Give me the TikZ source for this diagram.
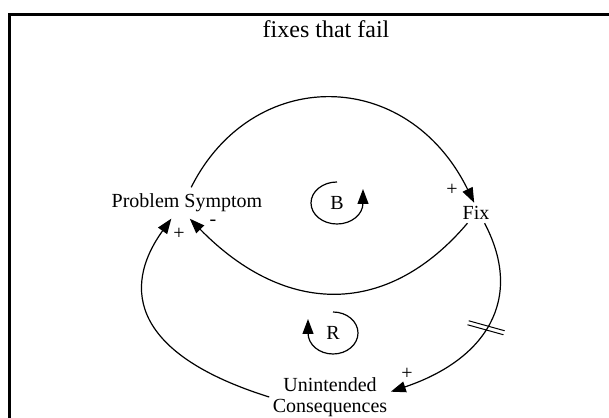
\documentclass[tikz,border=0pt]{standalone}
\usepackage{fontspec}
\setmainfont{Liberation Serif}
\usetikzlibrary{arrows.meta}

\begin{document}
\begin{tikzpicture}[x=0.5pt, y=0.5pt, line width=0.6pt,
		every node/.style={font=\fontsize{10}{10.5}\selectfont, inner sep=1.5pt},
		link/.style={-{Triangle[length=7.5pt,width=5.5pt]}},
		sign/.style={inner sep=0pt}]
		\useasboundingbox (0,0) rectangle (609,417);
		\draw[line width=1.5pt] (9,402) rectangle (615,-5);
		\node[font=\fontsize{12}{14}\selectfont] (title) at (326,388) {fixes that fail};
		
		\node[inner ysep=3pt] (PS) at (187,214) {Problem Symptom};
		\node (Fix) at (476,204) {Fix};
		\node[align=center] (UC) at (330,20) {Unintended\\Consequences};
		\node (B) at (337,214) {B};
		\node (R) at (333,84) {R};
		
		\draw[link] (PS.75) .. controls (252,351) and (407,351) .. (Fix.100);
		\draw[link] (Fix.-130) .. controls (388,100) and (286,100) .. (PS.-80);
		\draw[link] (UC.west) .. controls (135,62) and (120,127) .. (PS.-135);
		\draw[link] (Fix.-50) .. controls (525,117) and (485,57) .. coordinate[pos=0.52] (delay) (UC.5);
		
		% delay
		\foreach \s in {-1,1}
		{
			\draw[line width=0.5pt] ([shift={(-18+0.6*\s,5+2*\s)}]delay) -- ([shift={(18+0.6*\s,-5+2*\s)}]delay);
		}
		
		% loops
		\draw[link] (B.center) ++(0,21) arc[start angle=90, end angle=360, x radius=26, y radius=21] -- ++(0,14);
		\draw[link] (R.center) ++(0,21) arc[start angle=90, end angle=-180, x radius=25, y radius=21] -- ++(0,14);
		
		\node[sign] (s1) at (452,227) {+};
		\node[sign] (s2) at (213,194) {-};
		\node[sign] (s3) at (179,183) {+};
		\node[sign] (s4) at (407,43) {+};
	\end{tikzpicture}
\end{document}
